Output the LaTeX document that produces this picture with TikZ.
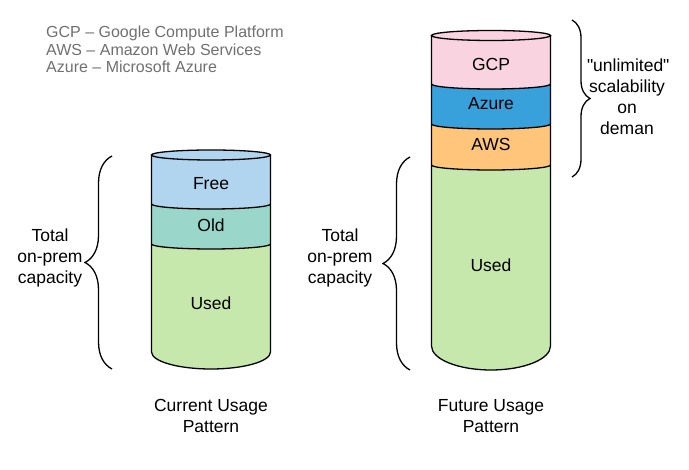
\documentclass[tikz,border=0pt]{standalone}
\usepackage{fontspec}
\setmainfont{Liberation Sans}[Ligatures=TeXOff]
\usetikzlibrary{positioning,decorations.pathreplacing}
\definecolor{freeblue}{RGB}{177,212,239}
\definecolor{oldteal}{RGB}{154,214,202}
\definecolor{usedgreen}{RGB}{199,232,172}
\definecolor{gcppink}{RGB}{250,211,224}
\definecolor{azureblue}{RGB}{56,160,218}
\definecolor{awsorange}{RGB}{255,197,122}
\definecolor{legendgray}{RGB}{112,112,112}
\tikzset{
  rim/.style={x radius=59.5,y radius=5},
  outl/.style={draw=black,line width=1.3pt},
  lbl/.style={font=\fontsize{17.5}{21}\selectfont,align=center,inner sep=0pt},
  legend/.style={font=\fontsize{16}{17.6}\selectfont,text=legendgray,align=left,inner sep=0pt},
  brc/.style={draw=black,line width=1.3pt,decorate,decoration={brace,amplitude=#1}},
}

\begin{document}
\begin{tikzpicture}[x=1pt,y=1pt]
  \useasboundingbox (0,0) rectangle (689,470);
  % segment fills
  \fill[freeblue,rim] (151.5,315) arc[start angle=180,end angle=0] -- (270.5,266) arc[start angle=0,end angle=-180] -- cycle;
  \fill[gcppink,rim] (431.5,434.5) arc[start angle=180,end angle=0] -- (550.5,386) arc[start angle=0,end angle=-180] -- cycle;
  \foreach \xl/\ta/\tb/\col in {151.5/266/226/oldteal,431.5/386/346/azureblue,431.5/346/305/awsorange}
    \fill[\col,rim] (\xl,\ta) arc[start angle=180,end angle=360] -- ++(0,\tb-\ta) arc[start angle=0,end angle=-180] -- cycle;
  \fill[usedgreen,rim] (151.5,226) arc[start angle=180,end angle=360] -- (270.5,118) arc[start angle=0,end angle=-180,y radius=17] -- cycle;
  \fill[usedgreen,rim] (431.5,305) arc[start angle=180,end angle=360] -- (550.5,124) arc[start angle=0,end angle=-180,y radius=24] -- cycle;
  % outlines
  \draw[outl] (211,315) ellipse[x radius=59.5,y radius=5];
  \draw[outl] (151.5,315) -- (151.5,118) arc[start angle=180,end angle=360,x radius=59.5,y radius=17] -- (270.5,315);
  \draw[outl] (491,434.5) ellipse[x radius=59.5,y radius=5];
  \draw[outl] (431.5,434.5) -- (431.5,124) arc[start angle=180,end angle=360,x radius=59.5,y radius=24] -- (550.5,434.5);
  \foreach \xl/\ta in {151.5/266,151.5/226,431.5/386,431.5/346,431.5/305}
    \draw[outl,rim] (\xl,\ta) arc[start angle=180,end angle=360];

  \node[lbl] (free) at (211,286) {Free};
  \node[lbl] (old) at (211,245) {Old};
  \node[lbl] (lused) at (211,167) {Used};
  \node[lbl] (gcp) at (491,406) {GCP};
  \node[lbl] (azure) at (491,366) {Azure};
  \node[lbl] (aws) at (491,326) {AWS};
  \node[lbl] (rused) at (491,205) {Used};

  % braces
  \coordinate (lb1) at (112,101);
  \coordinate (lb2) at (112,314);
  \coordinate (rb1) at (410,100);
  \coordinate (rb2) at (410,313);
  \coordinate (sb1) at (572,450);
  \coordinate (sb2) at (572,293);
  \draw[brc=27] (lb1) -- (lb2);
  \draw[brc=27] (rb1) -- (rb2);
  \draw[brc=18] (sb1) -- (sb2);
  \node[lbl] (ltotal) at (50,212) {Total\\on-prem\\capacity};
  \node[lbl] (rtotal) at (340,212) {Total\\on-prem\\capacity};
  \node[lbl,text width=80pt] (burst) at (627,373) {"unlimited"\\scalability\\on\\deman};

  % captions and legend
  \coordinate (lbot) at (211,101);
  \coordinate (rbot) at (491,101);
  \node[lbl,below=30pt of lbot] (curcap) {Current Usage\\Pattern};
  \node[lbl,below=30pt of rbot] (futcap) {Future Usage\\Pattern};
  \node[legend,anchor=north west] (key) at (46,444) {GCP – Google Compute Platform\\AWS – Amazon Web Services\\Azure – Microsoft Azure};
\end{tikzpicture}
\end{document}
